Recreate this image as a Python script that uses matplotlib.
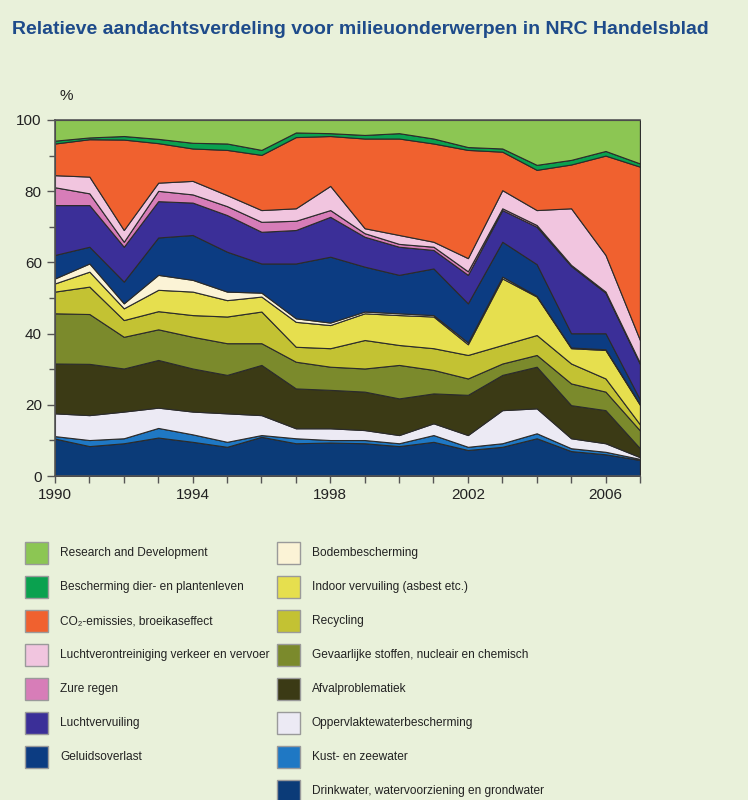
import numpy as np
import matplotlib.pyplot as plt
from matplotlib.patches import Rectangle

# Years on the x axis
years = list(range(1990, 2008))

# Share per topic (%), bottom of the stack first
drinkwater = [10.5, 8.4, 9.2, 10.8, 9.6, 8.2, 11.0, 9.2, 9.4, 9.2, 8.4, 9.6, 7.3, 8.2, 10.6, 7.0, 6.1, 4.5]
kust = [0.7, 1.7, 1.4, 2.7, 2.1, 1.4, 0.5, 1.4, 0.7, 0.9, 0.8, 1.9, 0.9, 1.0, 1.4, 0.8, 0.7, 0.3]
oppervlaktewater = [6.4, 7.0, 7.5, 5.7, 6.4, 8.0, 5.6, 2.8, 3.3, 2.8, 2.3, 3.3, 3.3, 9.3, 7.0, 2.8, 2.4, 0.5]
afval = [14.0, 14.4, 12.1, 13.4, 12.1, 10.8, 14.1, 11.2, 10.8, 10.8, 10.3, 8.4, 11.3, 9.9, 11.7, 9.3, 9.3, 2.5]
gevaarlijk = [14.1, 14.0, 8.9, 8.6, 8.9, 8.9, 6.1, 7.5, 6.5, 6.5, 9.4, 6.6, 4.6, 3.2, 3.3, 6.1, 5.2, 5.0]
recycling = [6.1, 7.7, 4.7, 5.1, 6.1, 7.5, 8.9, 4.2, 5.2, 8.0, 5.6, 6.1, 6.6, 5.2, 5.6, 5.6, 3.7, 1.7]
indoor = [2.3, 4.2, 3.3, 6.0, 6.6, 4.6, 4.2, 7.0, 6.5, 7.5, 8.4, 8.9, 3.0, 18.7, 10.8, 4.3, 8.0, 5.5]
bodem = [1.4, 2.3, 1.4, 4.2, 3.3, 2.4, 1.1, 1.0, 0.7, 0.5, 0.5, 0.4, 0.5, 0.5, 0.2, 0.2, 0.2, 0.2]
geluid = [6.6, 4.7, 6.1, 10.5, 12.6, 11.2, 8.2, 15.4, 18.5, 12.6, 10.8, 13.1, 11.0, 9.8, 8.9, 4.0, 4.5, 1.3]
luchtvervuiling = [14.0, 11.7, 9.8, 10.2, 9.1, 10.3, 8.9, 9.4, 11.2, 8.4, 7.9, 5.2, 8.0, 8.9, 10.5, 18.9, 11.4, 10.0]
zure_regen = [5.0, 3.3, 1.4, 2.9, 2.3, 2.5, 2.8, 2.6, 1.9, 1.0, 0.8, 0.9, 1.0, 0.5, 0.5, 0.3, 0.3, 0.3]
verkeer = [3.4, 4.7, 3.3, 2.3, 3.8, 3.1, 3.3, 3.5, 6.8, 1.4, 2.5, 1.4, 3.7, 5.1, 4.2, 15.9, 10.3, 6.4]
co2 = [8.9, 10.5, 25.4, 11.1, 9.1, 12.7, 15.5, 20.0, 14.0, 25.2, 27.1, 27.6, 30.4, 10.8, 11.3, 12.3, 27.9, 48.7]
bescherming = [0.8, 0.5, 1.0, 1.2, 1.6, 1.8, 1.4, 1.3, 0.8, 1.0, 1.5, 1.4, 0.8, 0.9, 1.4, 1.3, 1.3, 0.9]
research = [5.8, 4.9, 4.5, 5.3, 6.4, 6.6, 8.4, 3.5, 3.7, 4.2, 3.7, 5.2, 7.6, 8.0, 12.6, 11.2, 8.7, 12.2]

labels = [
    "Drinkwater, watervoorziening en grondwater",
    "Kust- en zeewater",
    "Oppervlaktewaterbescherming",
    "Afvalproblematiek",
    "Gevaarlijke stoffen, nucleair en chemisch",
    "Recycling",
    "Indoor vervuiling (asbest etc.)",
    "Bodembescherming",
    "Geluidsoverlast",
    "Luchtvervuiling",
    "Zure regen",
    "Luchtverontreiniging verkeer en vervoer",
    "CO\u2082-emissies, broeikaseffect",
    "Bescherming dier- en plantenleven",
    "Research and Development",
]
colors = [
    "#0b3b78", "#1f78c4", "#eceaf4", "#3b3a15", "#7b8a2c",
    "#c3c233", "#e6df4e", "#fbf3d6", "#0c3c82", "#3b2f98",
    "#d77db8", "#f1c5df", "#f0612f", "#0aa14f", "#8cc653",
]
series = [drinkwater, kust, oppervlaktewater, afval, gevaarlijk, recycling,
          indoor, bodem, geluid, luchtvervuiling, zure_regen, verkeer,
          co2, bescherming, research]

bg = "#e9f1da"
plt.rcParams['font.family'] = ["Liberation Sans", "DejaVu Sans"]

fig = plt.figure(figsize=(7.48, 8.0), dpi=100, facecolor=bg)
ax = fig.add_axes([0.0735, 0.405, 0.782, 0.445])
ax.set_facecolor(bg)

ax.stackplot(years, *series, colors=colors, edgecolor="#2b2b2b", linewidth=0.8)

ax.set_xlim(1990, 2007)
ax.set_ylim(0, 100)
ax.set_xticks(years)
ax.set_xticklabels([str(y) if (y - 1990) % 4 == 0 else "" for y in years])
ax.set_yticks(range(0, 101, 20))
ax.set_yticks(range(10, 100, 20), minor=True)
ax.tick_params(axis="both", which="major", direction="out", length=6, width=1,
               color="#555555", labelsize=11, labelcolor="#222222")
ax.tick_params(axis="y", which="minor", direction="out", length=4, width=1,
               color="#555555")
ax.tick_params(axis="x", length=5)
ax.spines["right"].set_visible(False)
for side in ["left", "bottom", "top"]:
    ax.spines[side].set_color("#555555")
    ax.spines[side].set_linewidth(1.2)

fig.text(60 / 748, 1 - 96 / 800, "%", fontsize=11, color="#222222", ha="left", va="center")

# Title
fig.text(12 / 748, 1 - 30 / 800, "Relatieve aandachtsverdeling voor milieuonderwerpen in NRC Handelsblad",
         fontsize=14, fontweight="bold", color="#1e4b8a", ha="left", va="center")

# Legend in two columns, drawn by hand
left_col = [14, 13, 12, 11, 10, 9, 8]
right_col = [7, 6, 5, 4, 3, 2, 1, 0]
row_y0 = 553
row_dy = 34
for items, box_x, text_x in [(left_col, 25, 60), (right_col, 277, 312)]:
    for i, idx in enumerate(items):
        yc = row_y0 + i * row_dy
        rect = Rectangle((box_x / 748, 1 - (yc + 11) / 800), 23 / 748, 22 / 800,
                         transform=fig.transFigure, facecolor=colors[idx],
                         edgecolor="#9a9a9a", linewidth=1.0)
        fig.add_artist(rect)
        fig.text(text_x / 748, 1 - yc / 800, labels[idx], fontsize=8.6,
                 color="#222222", ha="left", va="center")

fig.savefig("out.png", dpi=100, facecolor=bg)
